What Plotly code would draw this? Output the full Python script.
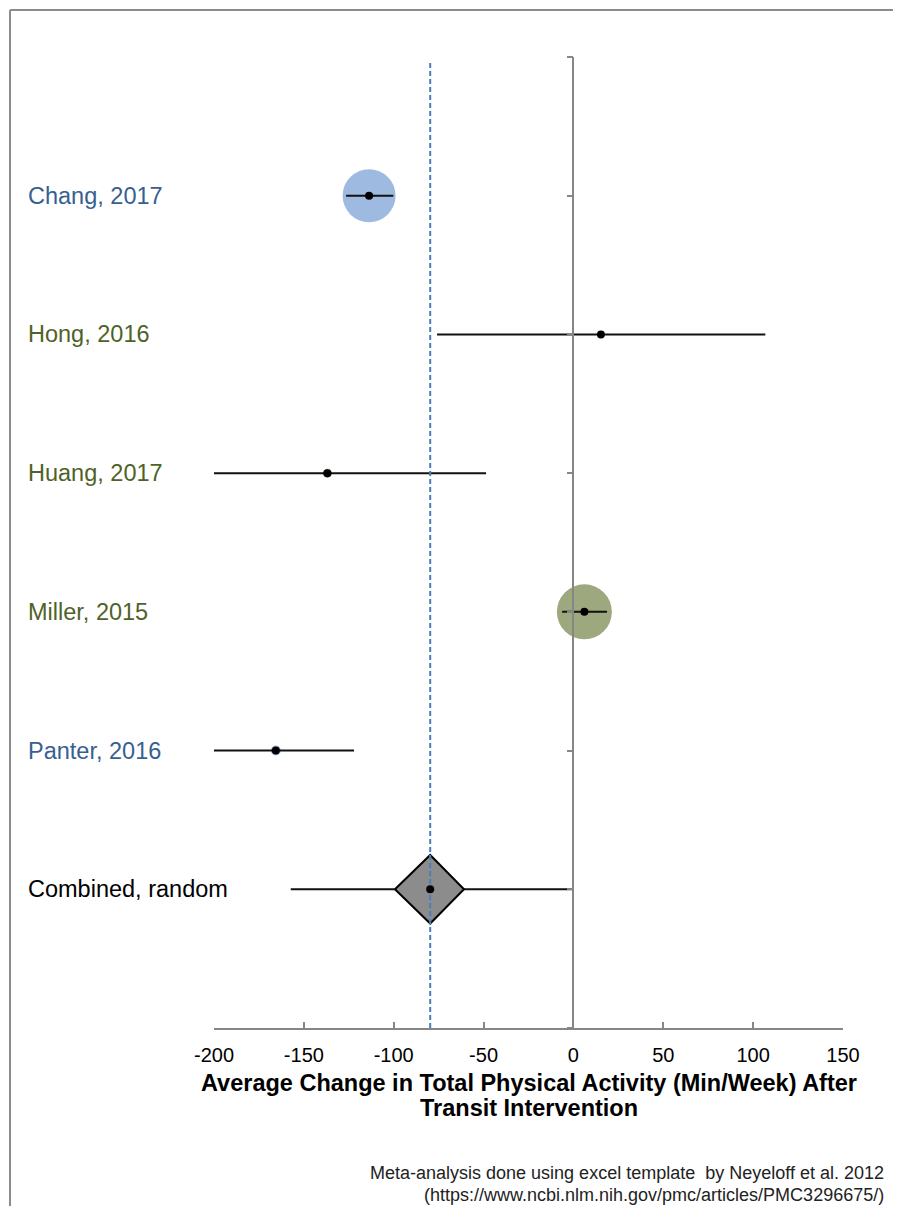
import plotly.graph_objects as go

studies = ["Chang, 2017", "Hong, 2016", "Huang, 2017", "Miller, 2015", "Panter, 2016"]
effect = [-113.7, 15.3, -136.9, 6.1, -165.6]
ci_low = [-126.5, -75.9, -200.0, -6.3, -200.0]
ci_high = [-100.2, 106.8, -48.6, 18.7, -122.1]
bubble_size = [53, 2, 9, 55, 10]
row = [6, 5, 4, 3, 2]
label_colors = ["#376092", "#4F6228", "#4F6228", "#4F6228", "#376092"]
bubble_colors = ["#9EBAE0", "#9EA87E", "#9EA87E", "#9EA87E", "#9EBAE0"]

combined_label = "Combined, random"
combined_effect = -79.7
combined_low = -157.3
combined_high = -1.0
combined_diamond_low = -99.3
combined_diamond_high = -60.9
combined_row = 1

xticks = [-200, -150, -100, -50, 0, 50, 100, 150]
y_rows = list(range(0, 8))

FONT = "Liberation Sans, Arial, sans-serif"
fig = go.Figure()

# CI lines
cx, cy = [], []
for lo, hi, r in zip(ci_low + [combined_low], ci_high + [combined_high], row + [combined_row]):
    cx += [lo, hi, None]
    cy += [r, r, None]

# bubbles
fig.add_trace(go.Scatter(x=effect, y=row, mode="markers",
                         marker=dict(size=bubble_size, color=bubble_colors, opacity=1, line=dict(width=0)),
                         hoverinfo="skip", showlegend=False))

fig.add_trace(go.Scatter(x=cx, y=cy, mode="lines", line=dict(color="#111111", width=2),
                         hoverinfo="skip", showlegend=False))

# diamond
dh = 0.247
fig.add_trace(go.Scatter(
    x=[combined_diamond_low, combined_effect, combined_diamond_high, combined_effect, combined_diamond_low],
    y=[combined_row, combined_row + dh, combined_row, combined_row - dh, combined_row],
    mode="lines", fill="toself", fillcolor="#8C8C8C",
    line=dict(color="#000000", width=2), hoverinfo="skip", showlegend=False))

# dashed pooled line
fig.add_trace(go.Scatter(x=[combined_effect, combined_effect], y=[y_rows[0], y_rows[-1] - 0.03],
                         mode="lines", line=dict(color="#4A7EBB", width=2, dash="5px,3px"),
                         hoverinfo="skip", showlegend=False))

# center dots
fig.add_trace(go.Scatter(x=effect + [combined_effect], y=row + [combined_row], mode="markers",
                         marker=dict(size=8, color="#000000"), hoverinfo="skip", showlegend=False))

# study labels
for s, r, c in zip(studies + [combined_label], row + [combined_row], label_colors + ["#000000"]):
    fig.add_annotation(text=s, x=-0.2989, xref="paper", y=r, yref="y", xanchor="left",
                       yanchor="middle", showarrow=False, font=dict(family=FONT, size=23.5, color=c))

# axis title
fig.add_annotation(text="<b>Average Change in Total Physical Activity (Min/Week) After</b>",
                   x=0.5, xref="paper", y=-0.0566, yref="paper", xanchor="center", yanchor="middle",
                   showarrow=False, font=dict(family=FONT, size=23.5, color="#000000"))
fig.add_annotation(text="<b>Transit Intervention</b>",
                   x=0.5, xref="paper", y=-0.0824, yref="paper", xanchor="center", yanchor="middle",
                   showarrow=False, font=dict(family=FONT, size=23.5, color="#000000"))

# footnote
fig.add_annotation(text="Meta-analysis done using excel template  by Neyeloff et al. 2012",
                   x=1.069, xref="paper", y=-0.1498, yref="paper", xanchor="right", yanchor="middle",
                   showarrow=False, font=dict(family=FONT, size=18, color="#222222"))
fig.add_annotation(text="(https://www.ncbi.nlm.nih.gov/pmc/articles/PMC3296675/)",
                   x=1.069, xref="paper", y=-0.1725, yref="paper", xanchor="right", yanchor="middle",
                   showarrow=False, font=dict(family=FONT, size=18, color="#222222"))

# outer border (left and top)
fig.add_shape(type="line", xref="paper", yref="paper", x0=-0.3243, x1=-0.3243, y0=-0.25, y1=1.0484,
              line=dict(color="#8C8C8C", width=2))
fig.add_shape(type="line", xref="paper", yref="paper", x0=-0.3243, x1=1.2, y0=1.0484, y1=1.0484,
              line=dict(color="#8C8C8C", width=2))

fig.update_layout(
    width=885, height=1198,
    margin=dict(l=206, r=50, t=49, b=178),
    paper_bgcolor="white", plot_bgcolor="white",
    xaxis=dict(range=[-200, 150], tickvals=xticks, ticktext=[str(v) for v in xticks],
               ticks="inside", ticklen=6, tickwidth=1.5, tickcolor="#868686",
               showline=True, linecolor="#868686", linewidth=1.5, showgrid=False, zeroline=False,
               tickfont=dict(family=FONT, size=20, color="#000000"), ticklabelstandoff=8,
               fixedrange=True),
    yaxis=dict(range=[0, 7], tickvals=y_rows, showticklabels=False,
               anchor="free", position=200 / 350, ticks="outside", ticklen=6, tickwidth=1.5,
               tickcolor="#868686", showline=True, linecolor="#868686", linewidth=1.5,
               showgrid=False, zeroline=False, fixedrange=True),
)

fig.write_html("out.html")
